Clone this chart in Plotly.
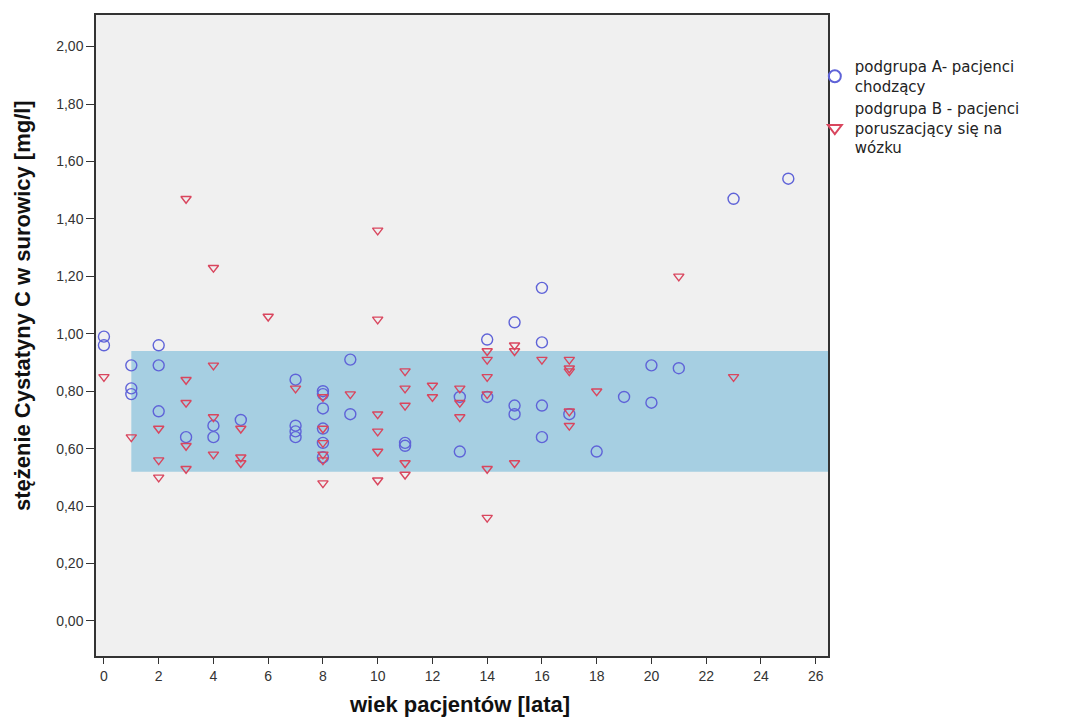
import plotly.graph_objects as go

# --- data ---
age_a = [0, 0, 1, 1, 1, 2, 2, 2, 3, 4, 4, 5, 7, 7, 7, 7, 8, 8, 8, 8, 8, 8, 9, 9,
         11, 11, 13, 13, 14, 14, 15, 15, 15, 16, 16, 16, 16, 17, 18, 19, 20, 20, 21, 23, 25]
cyst_a = [0.99, 0.96, 0.89, 0.81, 0.79, 0.96, 0.89, 0.73, 0.64, 0.68, 0.64, 0.70,
          0.84, 0.68, 0.66, 0.64, 0.80, 0.79, 0.74, 0.67, 0.62, 0.57, 0.91, 0.72,
          0.62, 0.61, 0.78, 0.59, 0.98, 0.78, 1.04, 0.75, 0.72, 1.16, 0.97, 0.75, 0.64,
          0.72, 0.59, 0.78, 0.89, 0.76, 0.88, 1.47, 1.54]

age_b = [0, 1, 2, 2, 2, 3, 3, 3, 3, 3, 4, 4, 4, 4, 5, 5, 5, 6, 7, 8, 8, 8, 8, 8, 8,
         9, 10, 10, 10, 10, 10, 10, 11, 11, 11, 11, 11, 12, 12, 13, 13, 13,
         14, 14, 14, 14, 14, 14, 15, 15, 15, 16, 17, 17, 17, 17, 17, 18, 21, 23]
cyst_b = [0.85, 0.64, 0.67, 0.56, 0.50, 1.47, 0.84, 0.76, 0.61, 0.53, 1.23, 0.89, 0.71,
          0.58, 0.67, 0.57, 0.55, 1.06, 0.81, 0.78, 0.67, 0.62, 0.58, 0.56, 0.48,
          0.79, 1.36, 1.05, 0.72, 0.66, 0.59, 0.49, 0.87, 0.81, 0.75, 0.55, 0.51,
          0.82, 0.78, 0.81, 0.76, 0.71, 0.94, 0.91, 0.85, 0.79, 0.53, 0.36,
          0.96, 0.94, 0.55, 0.91, 0.91, 0.88, 0.87, 0.73, 0.68, 0.80, 1.20, 0.85]

name_a = "podgrupa A- pacjenci<br>chodzący"
name_b = "podgrupa B - pacjenci<br>poruszacjący się na<br>wózku"
x_title = "wiek pacjentów [lata]"
y_title = "stężenie Cystatyny C w surowicy [mg/l]"

band_start_age = 1
band_low = 0.52
band_high = 0.94

x_ticks = list(range(0, 27, 2))
y_ticks = [0.0, 0.2, 0.4, 0.6, 0.8, 1.0, 1.2, 1.4, 1.6, 1.8, 2.0]

x_range = [-0.29, 26.45]
y_range = [-0.122, 2.11]

fig = go.Figure()

fig.add_shape(type="rect", xref="x", yref="y",
              x0=band_start_age, x1=x_range[1], y0=band_low, y1=band_high,
              fillcolor="#a6cfe2", line=dict(width=0), layer="below")

fig.add_trace(go.Scatter(
    x=age_a, y=cyst_a, mode="markers", name=name_a,
    marker=dict(symbol="circle-open", size=11, color="#5f63d8",
                line=dict(width=1.4, color="#5f63d8")),
))
fig.add_trace(go.Scatter(
    x=age_b, y=cyst_b, mode="markers", name=name_b,
    marker=dict(symbol="triangle-down-open", size=9, color="#d9465e",
                line=dict(width=1.4, color="#d9465e")),
))

axis_font = dict(family="Liberation Sans, Arial, sans-serif", size=14, color="#333333")

fig.update_xaxes(
    range=x_range, tickvals=x_ticks, ticks="outside", ticklen=6, tickwidth=1.2,
    tickcolor="#333333", tickfont=axis_font, showgrid=False, zeroline=False,
    showline=True, linecolor="#333333", linewidth=1.5, mirror=True,
)
fig.update_yaxes(
    range=y_range, tickvals=y_ticks, tickformat=".2f", ticks="outside", ticklen=8,
    tickwidth=1.2, tickcolor="#333333", tickfont=axis_font, showgrid=False,
    zeroline=False, showline=True, linecolor="#333333", linewidth=1.5, mirror=True,
)

fig.add_annotation(
    text="<b>" + x_title + "</b>", xref="paper", yref="paper",
    x=0.497, y=-0.0764, xanchor="center", yanchor="middle", showarrow=False,
    font=dict(family="Liberation Sans, Arial, sans-serif", size=22, color="#111111"),
)
fig.add_annotation(
    text="<b>" + y_title + "</b>", xref="paper", yref="paper",
    x=-0.101, y=0.546, xanchor="center", yanchor="middle", showarrow=False,
    textangle=-90,
    font=dict(family="Liberation Sans, Arial, sans-serif", size=22, color="#111111"),
)

fig.update_layout(
    width=1086, height=718,
    margin=dict(l=96, r=258, t=15, b=62),
    paper_bgcolor="white", plot_bgcolor="#f0f0f0",
    separators=", ",
    showlegend=True,
    legend=dict(x=0.982, y=0.945, xanchor="left", yanchor="top",
                bgcolor="rgba(0,0,0,0)",
                font=dict(family="DejaVu Sans, sans-serif", size=15, color="#222222"),
                tracegroupgap=8, itemsizing="constant"),
)

fig.write_html("out.html")
